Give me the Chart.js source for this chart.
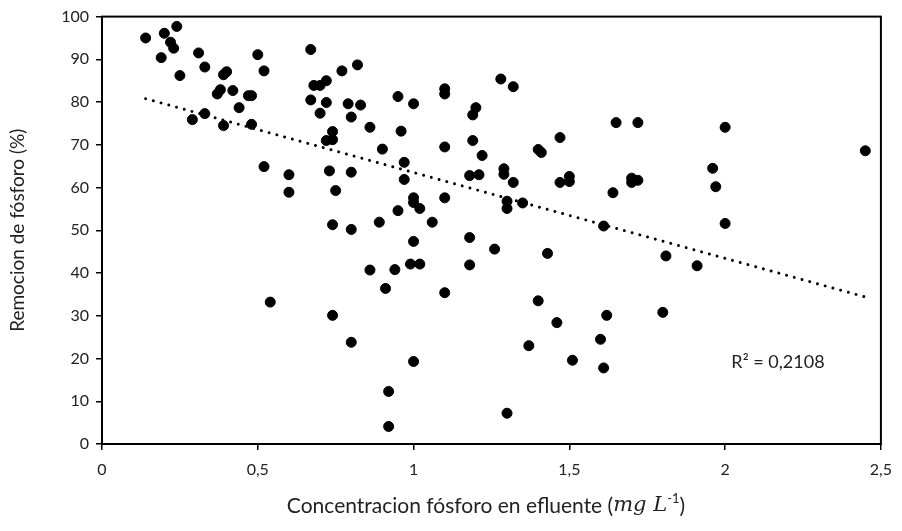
<!doctype html>
<html lang="es">
<head>
<meta charset="utf-8">
<title>Remocion de fósforo</title>
<script src="https://cdn.jsdelivr.net/npm/chart.js"></script>
<style>
  html, body { margin: 0; padding: 0; background: #fff; }
  #wrap { width: 902px; height: 531px; }
</style>
</head>
<body>
<div id="wrap"><canvas id="chart" width="902" height="531"></canvas></div>
<script>
// concentracion fosforo en efluente (mg/L)
const concX = [
  0.14, 0.20, 0.24, 0.22, 0.23, 0.19, 0.31, 0.33, 0.25, 0.39, 0.40, 0.50, 0.52, 0.37, 0.38, 0.42,
  0.47, 0.48, 0.44, 0.33, 0.29, 0.39, 0.48, 0.52, 0.60, 0.60, 0.67, 0.68, 0.70, 0.72, 0.77, 0.82,
  0.67, 0.72, 0.79, 0.70, 0.80, 0.74, 0.72, 0.74, 0.73, 0.80, 0.75, 0.74, 0.80, 0.83, 0.86, 0.96,
  0.95, 1.00, 1.10, 1.10, 1.20, 1.19, 1.28, 0.90, 1.10, 1.19, 1.22, 0.97, 0.97, 1.18, 1.21, 1.29,
  1.29, 1.00, 1.00, 1.02, 1.10, 0.95, 0.89, 1.06, 1.30, 1.30, 1.32, 1.65, 1.72, 2.00, 1.47, 1.40,
  1.41, 1.32, 1.47, 1.50, 1.50, 1.64, 1.70, 1.70, 1.72, 1.96, 1.97, 1.35, 1.61, 2.00, 1.18, 1.18,
  1.26, 1.43, 1.81, 1.91, 1.10, 1.40, 1.00, 0.86, 0.94, 0.99, 1.02, 0.91, 0.54, 0.74, 0.80, 1.37,
  1.00, 0.92, 0.92, 1.30, 1.46, 1.62, 1.80, 1.60, 1.51, 1.61, 2.45
];
// remocion de fosforo (%)
const remocionY = [
  95.0, 96.1, 97.7, 94.0, 92.6, 90.4, 91.5, 88.2, 86.2, 86.4, 87.1, 91.1, 87.3, 81.9, 82.9, 82.7,
  81.5, 81.5, 78.7, 77.3, 75.9, 74.5, 74.8, 64.9, 63.0, 58.9, 92.3, 83.9, 83.9, 85.0, 87.3, 88.7,
  80.5, 79.9, 79.6, 77.4, 76.5, 73.1, 71.0, 71.2, 63.9, 63.6, 59.3, 51.3, 50.2, 79.3, 74.1, 73.2,
  81.3, 79.6, 83.1, 81.9, 78.7, 77.0, 85.4, 69.0, 69.5, 71.0, 67.5, 65.9, 61.9, 62.8, 63.0, 64.4,
  63.1, 57.6, 56.5, 55.1, 57.6, 54.6, 51.9, 51.9, 56.8, 55.1, 83.6, 75.2, 75.2, 74.1, 71.7, 68.9,
  68.2, 61.2, 61.2, 62.6, 61.4, 58.8, 62.2, 61.2, 61.7, 64.5, 60.2, 56.4, 51.0, 51.6, 48.3, 41.9,
  45.6, 44.6, 44.0, 41.7, 35.4, 33.5, 47.4, 40.7, 40.8, 42.1, 42.1, 36.4, 33.2, 30.1, 23.8, 23.0,
  19.3, 12.3, 4.1, 7.2, 28.4, 30.1, 30.8, 24.5, 19.6, 17.8, 68.6
];
// linea de tendencia (lineal), extremos
const trendX = [0.14, 2.45];
const trendY = [80.8, 34.4];
const r2Label = 'R² = 0,2108';

const xTicks = [0, 0.5, 1, 1.5, 2, 2.5];

const points = concX.map((x, i) => ({ x: x, y: remocionY[i] }));
const trend = trendX.map((x, i) => ({ x: x, y: trendY[i] }));

const FONT = 'Lato, "Open Sans", sans-serif';

// marco, texto R² y titulo del eje x (con parte en cursiva)
const extras = {
  id: 'extras',
  afterDraw(chart) {
    const { ctx, chartArea: a, scales } = chart;
    ctx.save();
    ctx.strokeStyle = '#000';
    ctx.lineWidth = 2;
    ctx.strokeRect(a.left, a.top, a.right - a.left, a.bottom - a.top);

    ctx.fillStyle = '#222';
    ctx.font = '18px ' + FONT;
    ctx.textBaseline = 'middle';
    ctx.textAlign = 'left';
    ctx.fillText(r2Label, scales.x.getPixelForValue(2.02), scales.y.getPixelForValue(19.2));

    // x title
    const parts = [
      { t: 'Concentracion fósforo en efluente (', f: '21px ' + FONT, dy: 0 },
      { t: 'mg L', f: 'italic 21px "DejaVu Serif", serif', dy: 0 },
      { t: '-1', f: '13px ' + FONT, dy: -7 },
      { t: ')', f: '21px ' + FONT, dy: 0 }
    ];
    let total = 0;
    parts.forEach(p => { ctx.font = p.f; p.w = ctx.measureText(p.t).width; total += p.w; });
    let cx = 486 - total / 2;
    const cy = 506;
    parts.forEach(p => {
      ctx.font = p.f;
      ctx.fillText(p.t, cx, cy + p.dy);
      cx += p.w;
    });
    ctx.restore();
  }
};

new Chart(document.getElementById('chart'), {
  type: 'scatter',
  data: {
    datasets: [
      {
        label: 'Remocion',
        data: points,
        backgroundColor: '#000',
        borderColor: '#000',
        pointRadius: 5,
        pointHoverRadius: 5
      },
      {
        label: 'Tendencia',
        data: trend,
        showLine: true,
        pointRadius: 0,
        borderColor: '#000',
        borderWidth: 3,
        borderDash: [0.01, 8],
        borderCapStyle: 'round'
      }
    ]
  },
  options: {
    responsive: false,
    animation: false,
    layout: { padding: { left: 0, top: 16, right: 17, bottom: 0 } },
    plugins: {
      legend: { display: false },
      tooltip: { enabled: false }
    },
    scales: {
      x: {
        type: 'linear',
        min: 0,
        max: 2.5,
        afterFit(scale) { scale.height = 87; },
        afterBuildTicks(scale) { scale.ticks = xTicks.map(v => ({ value: v })); },
        ticks: {
          color: '#222',
          font: { family: FONT, size: 16 },
          padding: 10,
          callback: v => String(v).replace('.', ',')
        },
        grid: { drawOnChartArea: false, drawTicks: true, tickLength: 6, color: '#000', lineWidth: 1.5 },
        border: { display: true, color: '#000', width: 2 }
      },
      y: {
        min: 0,
        max: 100,
        afterFit(scale) { scale.width = 102; },
        ticks: {
          stepSize: 10,
          color: '#222',
          font: { family: FONT, size: 16 },
          padding: 7
        },
        grid: { drawOnChartArea: false, drawTicks: true, tickLength: 6, color: '#000', lineWidth: 1.5 },
        border: { display: true, color: '#000', width: 2 },
        title: {
          display: true,
          text: 'Remocion de fósforo (%)',
          color: '#222',
          font: { family: FONT, size: 19 },
          padding: { top: 6, bottom: 0 }
        }
      }
    }
  },
  plugins: [extras]
});
</script>
</body>
</html>
